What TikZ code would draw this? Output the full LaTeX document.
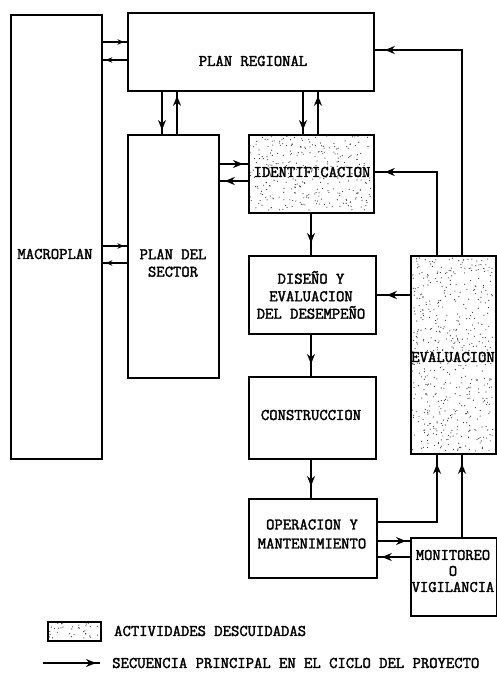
\documentclass[tikz,border=0pt]{standalone}
\usepackage{fontspec}
\newfontfamily\tw{Latin Modern Mono}[FakeBold=2.2]
\usetikzlibrary{arrows.meta,calc,decorations.markings}
\newcommand\stipdots[5]{%
  \foreach \k in {1,...,#5}{%
    \fill[black!80] ({#1+2+rnd*(#3-4)},{#2+2+rnd*(#4-4)}) circle (0.6bp);}}
\begin{document}
\begin{tikzpicture}[x=1bp,y=-1bp,
  box/.style={draw,line width=1.8bp,rectangle,inner sep=0pt,anchor=north west},
  txt/.style={font=\fontsize{16.2bp}{17.5bp}\selectfont\tw,align=center,inner sep=0pt},
  flow/.style={line width=1.6bp,decoration={markings,mark=at position #1 with {\arrow{Stealth[length=10bp,width=8bp]}}},postaction=decorate},
  flow/.default=-8bp,
  sflow/.style={line width=1.4bp,decoration={markings,mark=at position #1 with {\arrow{Stealth[length=6.5bp,width=5.5bp]}}},postaction=decorate},
  sflow/.default=-3bp]
\useasboundingbox (0,0) rectangle (497,691);
\pgfmathsetseed{7}
% boxes
\node[box,minimum width=91bp,minimum height=444bp] (macro) at (10,14) {};
\node[box,minimum width=246bp,minimum height=78bp] (preg) at (127,12) {};
\node[box,minimum width=91bp,minimum height=243bp] (sector) at (127,134) {};
\node[box,minimum width=125bp,minimum height=78bp] (ident) at (248,134) {};
\node[box,minimum width=127bp,minimum height=78bp] (diseno) at (248,255) {};
\node[box,minimum width=127bp,minimum height=82bp] (constr) at (248,376) {};
\node[box,minimum width=128bp,minimum height=79bp] (oper) at (248,498) {};
\node[box,minimum width=85bp,minimum height=198bp] (eval) at (410,255) {};
\node[box,minimum width=86bp,minimum height=78bp] (moni) at (410,537) {};
\node[box,minimum width=53bp,minimum height=19bp] (leg) at (47,621) {};
% stipple
\stipdots{248}{134}{125}{78}{320}
\stipdots{410}{255}{85}{198}{520}
\stipdots{47}{621}{53}{19}{34}
% texts
\node[txt] (pregt) at (253,61) {PLAN REGIONAL};
\node[txt] (macrot) at (55,254) {MACROPLAN};
\node[txt] (sectort) at (173,263) {PLAN DEL\\SECTOR};
\node[txt] (identt) at (312,172) {IDENTIFICACION};
\node[txt] (disenot) at (311,295) {DISEÑO Y\\EVALUACION\\DEL DESEMPEÑO};
\node[txt] (constrt) at (311,415) {CONSTRUCCION};
\node[txt,font=\fontsize{16.2bp}{19bp}\selectfont\tw] (opert) at (312,534) {OPERACION Y\\MANTENIMIENTO};
\node[txt] (evalt) at (453,357) {EVALUACION};
\node[txt,font=\fontsize{16bp}{16bp}\selectfont\tw] (monit) at (453,571) {MONITOREO\\O\\VIGILANCIA};
\node[txt,anchor=west] (legt) at (114,631) {ACTIVIDADES DESCUIDADAS};
\node[txt,anchor=west] (leg2t) at (112,663) {SECUENCIA PRINCIPAL EN EL CICLO DEL PROYECTO};
% connectors
\draw[sflow] (macro.east |- 0,42) -- (preg.west |- 0,42);
\draw[sflow] (preg.west |- 0,60) -- (macro.east |- 0,60);
\draw[sflow] (macro.east |- 0,246) -- (sector.west |- 0,246);
\draw[sflow] (sector.west |- 0,263) -- (macro.east |- 0,263);
\draw[flow=-4bp] (preg.south -| 162,0) -- (sector.north -| 162,0);
\draw[flow=-4bp] (sector.north -| 177,0) -- (preg.south -| 177,0);
\draw[flow=-4bp] (preg.south -| 303,0) -- (ident.north -| 303,0);
\draw[flow=-4bp] (ident.north -| 318,0) -- (preg.south -| 318,0);
\draw[flow=-5bp] (sector.east |- 0,164) -- (ident.west |- 0,164);
\draw[flow=-5bp] (ident.west |- 0,181) -- (sector.east |- 0,181);
\draw[flow=-12bp] (ident.south -| 311,0) -- (diseno.north -| 311,0);
\draw[flow=-12bp] (diseno.south -| 311,0) -- (constr.north -| 311,0);
\draw[flow=-12bp] (constr.south -| 311,0) -- (oper.north -| 311,0);
\draw[flow=-10bp] (eval.west |- 0,295) -- (diseno.east |- 0,295);
\draw[flow=-10bp] (eval.north -| 437,0) |- (ident.east |- 0,172);
\draw[flow=-10bp] (eval.north -| 462,0) |- (preg.east |- 0,50);
\draw[flow=-9bp] (oper.east |- 0,522) -| (eval.south -| 437,0);
\draw[flow=-4bp] (oper.east |- 0,541) -- (moni.west |- 0,541);
\draw[flow=-4bp] (moni.west |- 0,557) -- (oper.east |- 0,557);
\draw[flow=-9bp] (moni.north -| 462,0) -- (eval.south -| 462,0);
\coordinate (l1) at (43,663);
\coordinate (l2) at (100,663);
\draw[flow=-4bp] (l1) -- (l2);
\end{tikzpicture}
\end{document}
